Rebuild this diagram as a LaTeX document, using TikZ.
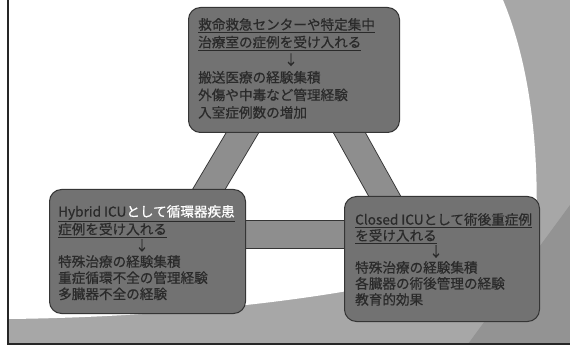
\documentclass[tikz,border=0pt]{standalone}
\usepackage{fontspec}
\setmainfont{Noto Sans CJK JP}[FakeBold=0.6]
\definecolor{bggray}{HTML}{A7A7A7}
\definecolor{bgdark}{HTML}{939393}
\definecolor{boxfill}{HTML}{727272}
\definecolor{boxline}{HTML}{353535}
\definecolor{barfill}{HTML}{8E8E8E}
\definecolor{labelink}{HTML}{2A2A2A}
\tikzset{
  panel/.style={draw=boxline, line width=1pt, fill=boxfill, rounded corners=12pt,
    anchor=north west, inner sep=0pt},
  paneltext/.style={anchor=north west, align=left, inner sep=0pt, text=labelink},
  band/.style={draw=boxline, line width=0.9pt, double=barfill, double distance=27pt},
}
\begin{document}
\begin{tikzpicture}[x=1pt,y=-1pt]
\useasboundingbox (0,0) rectangle (570,347);
% slide background
\fill[white] (0,0) rectangle (570,347);
\fill[bggray] (8,0) rectangle (570,344);
\fill[bgdark] (468,344) -- (570,205) -- (570,344) -- cycle;
\fill[white] (8,0) -- (503,0) .. controls (528,60) and (540,140) .. (536,240)
  .. controls (420,292) and (200,317) .. (8,319) -- cycle;
\draw[line width=1.4pt, black!85] (8,0) -- (8,344) -- (570,344);

% connector coordinates
\coordinate (tl) at (250,120);
\coordinate (lt) at (202.5,200);
\coordinate (tr) at (342.3,120);
\coordinate (rt) at (389.6,205);
\coordinate (lr) at (235,234.5);
\coordinate (rl) at (355,234.5);

% bands
\draw[band] (tl) -- (lt);
\draw[band] (tr) -- (rt);
\draw[band] (lr) -- (rl);

% boxes
\node[panel, minimum width=211pt, minimum height=125pt] (top) at (188,7) {};
\node[panel, minimum width=196pt, minimum height=124pt] (left) at (49,189) {};
\node[panel, minimum width=195pt, minimum height=125pt] (right) at (344,196) {};

% texts
\node[paneltext, font=\fontsize{13.6}{17.6}\selectfont] (toptext) at (198,18)
  {\underline{救命救急センターや特定集中}\\
   \underline{治療室の症例を受け入れる}\\
   \hspace*{86pt}↓\\
   搬送医療の経験集積\\
   外傷や中毒など管理経験\\
   入室症例数の増加};
\node[paneltext, font=\fontsize{13.6}{16.2}\selectfont] (lefttext) at (58,205)
  {\underline{Hybrid ICU\textcolor{white}{として循環器疾患}}\\
   \underline{症例を受け入れる}\\
   \hspace*{77pt}↓\\
   特殊治療の経験集積\\
   重症循環不全の管理経験\\
   多臓器不全の経験};
\node[paneltext, font=\fontsize{13.6}{16}\selectfont] (righttext) at (355,213)
  {\underline{Closed ICUとして術後重症例}\\
   \underline{を受け入れる}\\
   \hspace*{74pt}↓\\
   特殊治療の経験集積\\
   各臓器の術後管理の経験\\
   教育的効果};
\end{tikzpicture}
\end{document}
